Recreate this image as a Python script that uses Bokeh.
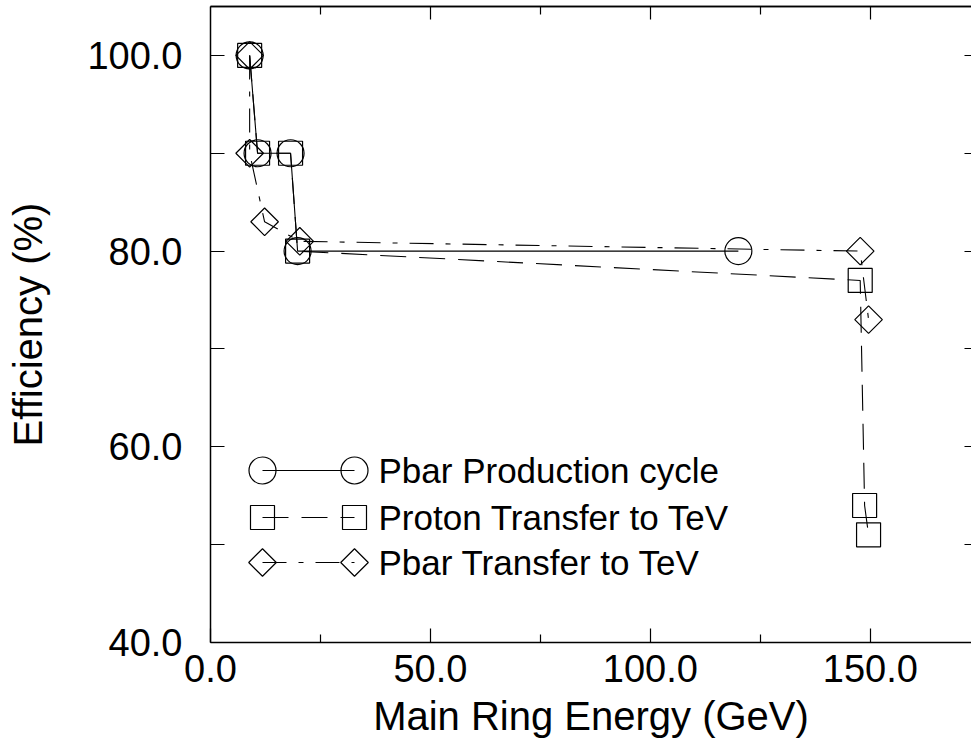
import math
from bokeh.plotting import figure
from bokeh.models import Range1d, LinearAxis, FixedTicker, PrintfTickFormatter
from bokeh.core.properties import value
from bokeh.embed import file_html
from bokeh.resources import INLINE

# ---------------- data ----------------
series_names = ["Pbar Production cycle", "Proton Transfer to TeV", "Pbar Transfer to TeV"]

prod_x = [8.9, 10.7, 18.2, 19.8, 120.0]
prod_y = [100.0, 90.0, 90.0, 80.0, 80.0]

proton_x = [8.9, 10.7, 18.2, 19.8, 147.7, 148.7, 149.6]
proton_y = [100.0, 90.0, 90.0, 80.0, 77.0, 54.0, 51.0]

ptrans_x = [8.9, 8.9, 12.3, 20.3, 147.7, 149.6]
ptrans_y = [100.0, 90.0, 83.0, 81.0, 80.0, 73.0]

x_ticks = [0, 50, 100, 150]
x_minor_ticks = [25, 75, 125, 175]
y_ticks = [40, 60, 80, 100]
y_minor_ticks = [50, 70, 90]

x_label = "Main Ring Energy (GeV)"
y_label = "Efficiency (%)"

# ---------------- layout / style ----------------
W, H = 971, 752
LEFT, TOP, BOTTOM = 210, 6, 110
XMIN, XMAX = 0.0, 173.0
YMIN, YMAX = 40.0, 105.0
FONT = "Liberation Sans"
TICK_FS = "38px"
LABEL_FS = "40px"
LEGEND_FS = "35px"

p = figure(width=W, height=H, x_range=Range1d(XMIN, XMAX), y_range=Range1d(YMIN, YMAX),
           min_border_left=LEFT, min_border_right=0, min_border_top=TOP,
           min_border_bottom=BOTTOM, toolbar_location=None, output_backend="svg",
           background_fill_color="white", border_fill_color="white")
p.outline_line_color = None
p.xgrid.visible = False
p.ygrid.visible = False

bottom_ax = p.below[0]
left_ax = p.left[0]

bottom_ax.ticker = FixedTicker(ticks=x_ticks, minor_ticks=x_minor_ticks)
bottom_ax.minor_tick_in = 8
bottom_ax.minor_tick_out = 0
left_ax.ticker = FixedTicker(ticks=y_ticks, minor_ticks=y_minor_ticks)
left_ax.minor_tick_in = 14
left_ax.minor_tick_out = 0

for ax in (bottom_ax, left_ax):
    ax.major_tick_in = 14
    ax.major_tick_out = 0
    ax.axis_line_color = "black"
    ax.axis_line_width = 1.5
    ax.major_tick_line_color = "black"
    ax.minor_tick_line_color = "black"
    ax.major_tick_line_width = 1.2
    ax.minor_tick_line_width = 1.2
    ax.formatter = PrintfTickFormatter(format="%.1f")
    ax.major_label_text_font = FONT
    ax.major_label_text_font_size = TICK_FS
    ax.major_label_text_color = "black"
    ax.axis_label_text_font = FONT
    ax.axis_label_text_font_size = LABEL_FS
    ax.axis_label_text_font_style = "normal"
    ax.axis_label_text_color = "black"

bottom_ax.axis_label = x_label
bottom_ax.major_label_standoff = 12
bottom_ax.axis_label_standoff = 9
left_ax.axis_label = y_label
left_ax.major_label_standoff = 28
left_ax.axis_label_standoff = 34

# top axis: label-less ticks (long at majors, short between), right axis: short stubs
def frame_axis(ticks, tick_len, line=True):
    ax = LinearAxis(ticker=FixedTicker(ticks=[], minor_ticks=ticks))
    ax.minor_tick_in = tick_len
    ax.minor_tick_out = 0
    ax.major_tick_in = 0
    ax.major_tick_out = 0
    ax.minor_tick_line_color = "black"
    ax.minor_tick_line_width = 1.2
    ax.axis_line_color = "black" if line else None
    ax.axis_line_width = 1.5
    ax.major_label_standoff = 0
    return ax

p.add_layout(frame_axis(x_ticks[1:], 13), "above")
p.add_layout(frame_axis(x_minor_ticks, 8), "above")
p.add_layout(frame_axis(y_ticks + y_minor_ticks, 7, line=False), "right")

# ---------------- series ----------------
styles = [
    dict(dash="solid", marker="circle", size=27, angle=0.0),
    dict(dash="26 13", marker="square", size=24, angle=0.0),
    dict(dash="24 12 5 12", marker="square", size=19.5, angle=math.pi / 4),
]
series = [(prod_x, prod_y), (proton_x, proton_y), (ptrans_x, ptrans_y)]

for (xs, ys), st in zip(series, styles):
    p.line(xs, ys, line_color="black", line_width=1.1, line_dash=st["dash"])
    p.scatter(xs, ys, marker=st["marker"], size=st["size"], angle=st["angle"],
              fill_color=None, line_color="black", line_width=1.2)

# ---------------- legend (drawn inside the plot, left side) ----------------
fw = W - LEFT
fh = H - TOP - BOTTOM
def px_to_x(px):
    return XMIN + (px - LEFT) / fw * (XMAX - XMIN)
def py_to_y(py):
    return YMAX - (py - TOP) / fh * (YMAX - YMIN)

leg_rows_px = [470, 517, 562]
m1, m2, tx = px_to_x(262), px_to_x(354), px_to_x(378)
for name, st, rpx in zip(series_names, styles, leg_rows_px):
    ly = py_to_y(rpx)
    p.line([m1, m2], [ly, ly], line_color="black", line_width=1.1, line_dash=st["dash"])
    p.scatter([m1, m2], [ly, ly], marker=st["marker"], size=st["size"], angle=st["angle"],
              fill_color=None, line_color="black", line_width=1.2)
    p.text([tx], [ly], text=[name], text_font=value(FONT), text_font_size=LEGEND_FS,
           text_baseline="middle", text_align="left", text_color="black")

open("out.html", "w").write(file_html(p, INLINE))
